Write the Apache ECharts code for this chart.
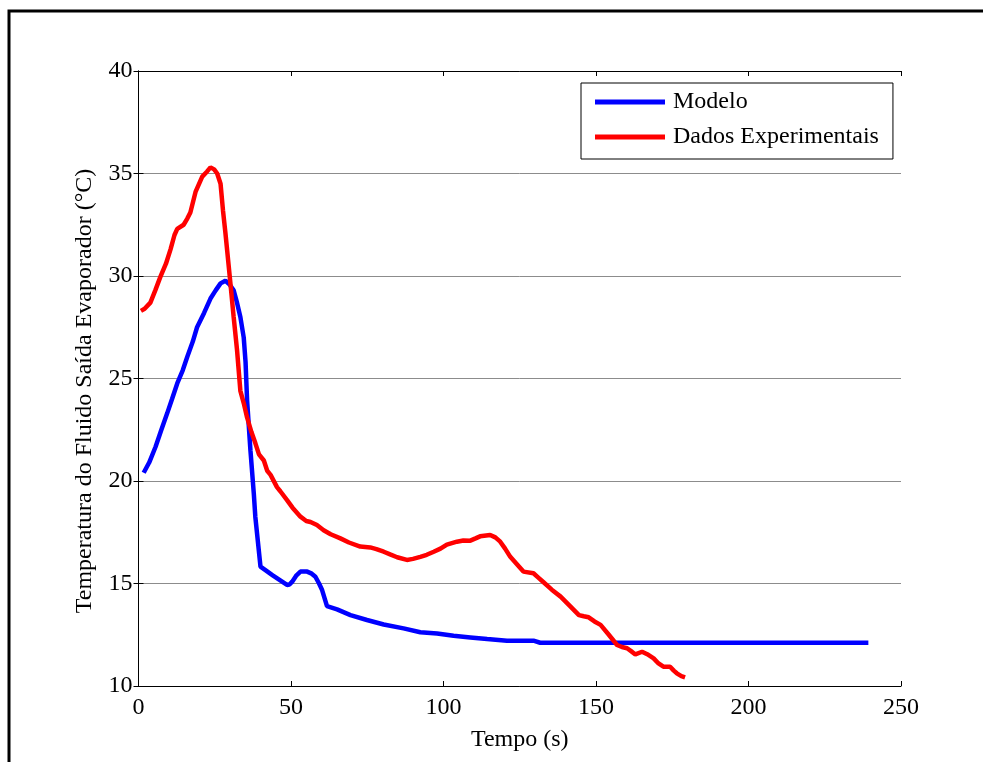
<!DOCTYPE html>
<html>
<head>
<meta charset="utf-8">
<title>Temperatura do Fluido Saída Evaporador</title>
<script src="https://cdn.jsdelivr.net/npm/echarts@6/dist/echarts.min.js"></script>
<style>
  html, body { margin: 0; padding: 0; background: #ffffff; }
  #chart { width: 983px; height: 762px; }
</style>
</head>
<body>
<div id="chart"></div>
<script>
// Axis ranges and ticks
const xTicks = [0, 50, 100, 150, 200, 250];
const yTicks = [10, 15, 20, 25, 30, 35, 40];

// Modelo: simulated outlet temperature (time in s, temperature in °C)
const modeloTempo = [1.7, 3.5, 5.6, 7.5, 9.4, 11, 12.7, 14.5, 16, 17.8, 19.2, 21.5, 23.6, 25.3, 26.9, 28.5, 29.8, 31.2, 32.3, 33.4,
  34.5, 35.1, 35.6, 36.7, 37.8, 38.3, 40, 44, 48.7, 49.5, 50.4, 51.8, 53.1, 55.3, 56.8, 58, 59.2, 60.2, 61.8, 65.1,
  69.5, 74.9, 80.4, 86.9, 92.4, 97.9, 103.3, 108.8, 114.3, 120.8, 129.5, 131.7, 239.3];
const modeloTemp = [20.4, 20.9, 21.67, 22.5, 23.3, 24.0, 24.76, 25.4, 26.06, 26.8, 27.5, 28.2, 28.9, 29.3, 29.64, 29.77, 29.6, 29.3, 28.7, 28.0,
  27.0, 25.8, 23.95, 21.5, 19.4, 18.26, 15.82, 15.4, 14.93, 14.95, 15.09, 15.4, 15.58, 15.58, 15.48, 15.33, 15.0, 14.68, 13.9, 13.74,
  13.46, 13.22, 13.0, 12.81, 12.62, 12.56, 12.45, 12.37, 12.29, 12.21, 12.21, 12.11, 12.11];

// Dados Experimentais: measured outlet temperature
const dadosTempo = [0.8, 2, 3.9, 5.5, 7.2, 9, 10.5, 11.8, 12.7, 14.8, 16, 17, 18.7, 20.9, 22.5, 23.6, 24.8, 25.8, 26.9, 27.7,
  28.5, 30.1, 31.2, 32.3, 33.4, 34.5, 35.6, 37, 38.3, 39.5, 41.1, 42.2, 43.3, 45.4, 46.5, 48.7, 50.5, 53.1, 55, 56.4,
  58.5, 60.7, 63, 66.2, 69, 72.7, 76, 78, 80.4, 82.5, 84.8, 88, 90, 92.4, 94.5, 96.8, 99, 101.1, 104.4, 106.5,
  108.8, 110.5, 112, 115.3, 117, 118.6, 120.2, 121.9, 124, 126.2, 129.5, 131, 132.8, 135.5, 138.4, 141.5, 144.4, 146, 147.6, 149.5,
  151.5, 154.2, 156.9, 158.5, 160.2, 161.5, 162.9, 165.1, 166.8, 168.9, 170.5, 172.1, 174.3, 175.5, 176.5, 178, 179.2];
const dadosTemp = [28.3, 28.4, 28.7, 29.3, 29.97, 30.6, 31.3, 32.0, 32.3, 32.5, 32.8, 33.1, 34.1, 34.85, 35.1, 35.3, 35.2, 35.0, 34.5, 33.2,
  32.1, 29.7, 28.0, 26.4, 24.4, 23.8, 23.1, 22.4, 21.85, 21.3, 21.0, 20.5, 20.3, 19.7, 19.5, 19.07, 18.7, 18.26, 18.05, 18.0,
  17.85, 17.6, 17.4, 17.2, 17.0, 16.8, 16.76, 16.68, 16.55, 16.42, 16.28, 16.15, 16.2, 16.3, 16.4, 16.55, 16.7, 16.9, 17.04, 17.1,
  17.09, 17.2, 17.3, 17.37, 17.25, 17.04, 16.7, 16.3, 15.95, 15.58, 15.5, 15.3, 15.06, 14.7, 14.36, 13.9, 13.46, 13.4, 13.35, 13.15,
  12.98, 12.5, 12.0, 11.9, 11.84, 11.7, 11.54, 11.67, 11.55, 11.35, 11.1, 10.94, 10.94, 10.75, 10.62, 10.48, 10.42];

const seriesNames = ['Modelo', 'Dados Experimentais'];
const xName = 'Tempo (s)';
const yName = 'Temperatura do Fluido Saída Evaporador (°C)';

const zip = (xs, ys) => xs.map((x, i) => [x, ys[i]]);

const FONT = '"Liberation Serif", "Times New Roman", serif';
const xMin = xTicks[0], xMax = xTicks[xTicks.length - 1];
const yMin = yTicks[0], yMax = yTicks[yTicks.length - 1];
const xStep = xTicks[1] - xTicks[0], yStep = yTicks[1] - yTicks[0];

const chart = echarts.init(document.getElementById('chart'), null, { renderer: 'canvas' });

const baseAxis = {
  axisLine: { show: true, lineStyle: { color: '#000', width: 1 } },
  axisTick: { show: true, inside: true, length: 5, lineStyle: { color: '#000', width: 1 } },
  splitLine: { show: false }
};

chart.setOption({
  backgroundColor: '#ffffff',
  animation: false,
  grid: { left: 138.5, right: 82, top: 71, bottom: 76, containLabel: false },
  legend: {
    data: seriesNames,
    orient: 'vertical',
    left: 581,
    top: 83,
    padding: [5, 14, 8, 14],
    itemGap: 7,
    itemWidth: 70,
    itemHeight: 5,
    icon: 'rect',
    backgroundColor: '#ffffff',
    borderColor: '#000',
    borderWidth: 1,
    borderRadius: 0,
    textStyle: { fontFamily: FONT, fontSize: 24, color: '#000', lineHeight: 24, padding: [4, 0, 0, 3] }
  },
  xAxis: [
    Object.assign({}, baseAxis, {
      type: 'value', position: 'bottom', min: xMin, max: xMax, interval: xStep,
      name: xName, nameLocation: 'middle', nameGap: 42,
      nameTextStyle: { fontFamily: FONT, fontSize: 24, color: '#000' },
      axisLabel: { fontFamily: FONT, fontSize: 24, color: '#000', margin: 10 }
    }),
    Object.assign({}, baseAxis, {
      type: 'value', position: 'top', min: xMin, max: xMax, interval: xStep,
      axisLabel: { show: false }
    })
  ],
  yAxis: [
    Object.assign({}, baseAxis, {
      type: 'value', position: 'left', min: yMin, max: yMax, interval: yStep,
      axisLabel: { fontFamily: FONT, fontSize: 24, color: '#000', margin: 6 },
      splitLine: { show: true, lineStyle: { color: '#8c8c8c', width: 1 } }
    }),
    Object.assign({}, baseAxis, {
      type: 'value', position: 'right', min: yMin, max: yMax, interval: yStep,
      axisLabel: { show: false }
    })
  ],
  graphic: [
    {
      type: 'text',
      x: 85, y: 391,
      rotation: Math.PI / 2,
      style: {
        text: yName, fontFamily: FONT, fontSize: 24, fill: '#000',
        align: 'center', verticalAlign: 'middle'
      }
    },
    {
      type: 'polyline',
      shape: { points: [[983, 11], [9, 11], [9, 762]] },
      style: { stroke: '#000', lineWidth: 3, fill: null }
    }
  ],
  series: [
    {
      name: seriesNames[0], type: 'line', xAxisIndex: 0, yAxisIndex: 0,
      data: zip(modeloTempo, modeloTemp),
      showSymbol: false, symbol: 'none',
      lineStyle: { color: '#0000ff', width: 4.5 },
      itemStyle: { color: '#0000ff' }
    },
    {
      name: seriesNames[1], type: 'line', xAxisIndex: 0, yAxisIndex: 0,
      data: zip(dadosTempo, dadosTemp),
      showSymbol: false, symbol: 'none',
      lineStyle: { color: '#ff0000', width: 4.5 },
      itemStyle: { color: '#ff0000' }
    }
  ]
});
</script>
</body>
</html>
